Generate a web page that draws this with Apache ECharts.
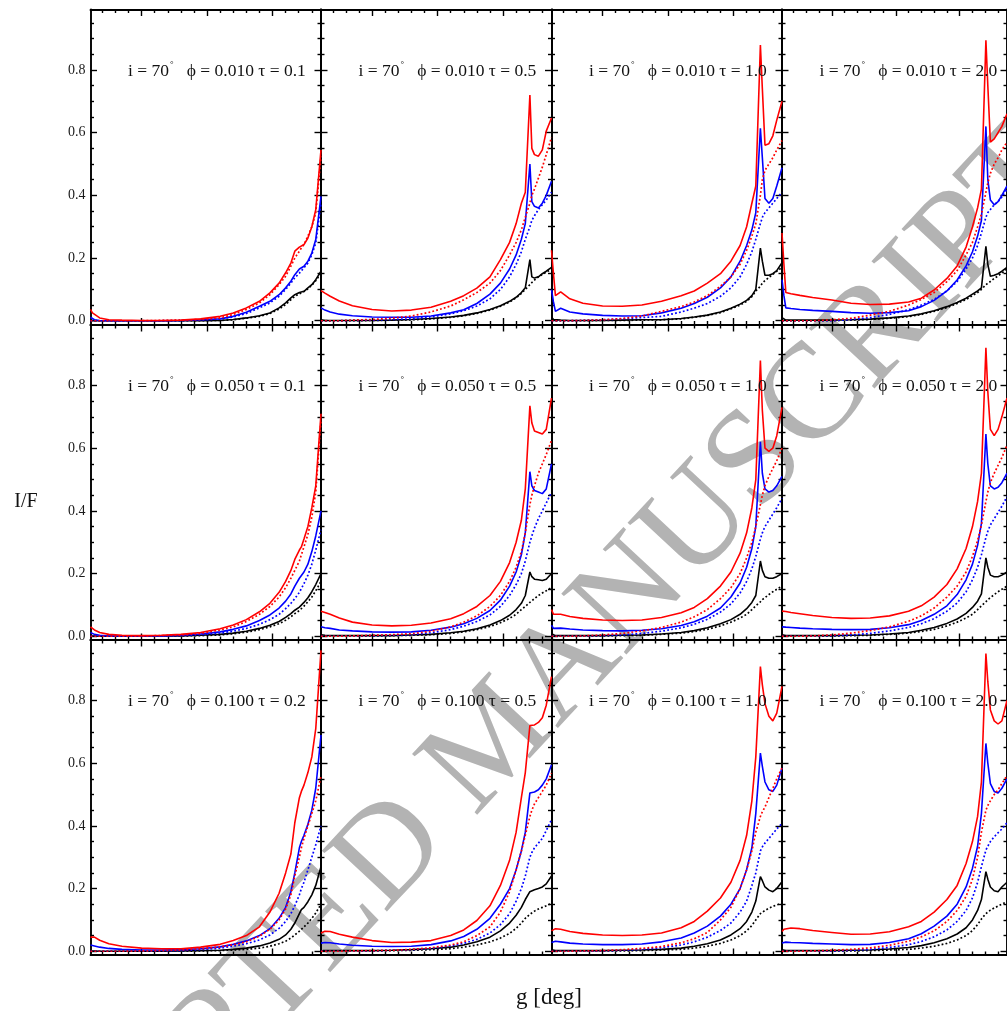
<!DOCTYPE html>
<html><head><meta charset="utf-8">
<script src="https://cdn.jsdelivr.net/npm/echarts@6/dist/echarts.min.js"></script>
<style>html,body{margin:0;padding:0;background:#fff}#c{width:1007px;height:1011px}</style>
</head><body><div id="c"></div>
<script>
// ---------------- DATA ----------------
const gDeg = [11, 12.5, 14, 18, 25, 35, 50, 65, 80, 95, 110, 120, 130, 140, 148, 155, 160, 164, 167, 170.5, 172, 174, 177, 180, 183, 187];
const inclination = '70';
const phiLabels = ['0.010', '0.050', '0.100'];
const tauLabels = [['0.1', '0.5', '1.0', '2.0'], ['0.1', '0.5', '1.0', '2.0'], ['0.2', '0.5', '1.0', '2.0']];
const yTickLabels = [0, 0.2, 0.4, 0.6, 0.8];
const yMinorTicks = [0.05, 0.1, 0.15, 0.25, 0.3, 0.35, 0.45, 0.5, 0.55, 0.65, 0.7, 0.75, 0.85, 0.9, 0.95];
const xMajorTicks = [50, 100, 150];
const xMinorTicks = [20, 30, 40, 60, 70, 80, 90, 110, 120, 130, 140, 160, 170, 180];
const yAxisTitle = 'I/F';
const xAxisTitle = 'g [deg]';
const watermark = 'ACCEPTED MANUSCRIPT';

// row 1 : phi = 0.010
const r1c1_redSolid = [0.036, 0.025, 0.019, 0.009, 0.003, 0.002, 0.001, 0.001, 0.002, 0.006, 0.014, 0.025, 0.041, 0.062, 0.089, 0.12, 0.153, 0.184, 0.222, 0.235, 0.237, 0.243, 0.264, 0.30, 0.354, 0.545];
const r1c1_redDotted = [0, 0, 0, 0, 0, 0, 0, 0.001, 0.002, 0.004, 0.009, 0.02, 0.036, 0.057, 0.083, 0.115, 0.142, 0.174, 0.2, 0.222, 0.232, 0.243, 0.27, 0.30, 0.344, 0.524];
const r1c1_blueSolid = [0.011, 0.006, 0.003, 0.001, 0, 0, 0, 0, 0.001, 0.003, 0.006, 0.014, 0.027, 0.046, 0.062, 0.083, 0.105, 0.126, 0.147, 0.165, 0.169, 0.174, 0.19, 0.216, 0.259, 0.397];
const r1c1_blueDotted = [0, 0, 0, 0, 0, 0, 0, 0, 0.001, 0.002, 0.006, 0.012, 0.023, 0.041, 0.057, 0.078, 0.1, 0.12, 0.137, 0.152, 0.158, 0.169, 0.184, 0.211, 0.248, 0.376];
const r1c1_blackSolid = [0.001, 0.001, 0, 0, 0, 0, 0, 0, 0, 0, 0.001, 0.004, 0.009, 0.016, 0.025, 0.041, 0.057, 0.073, 0.083, 0.09, 0.092, 0.094, 0.105, 0.115, 0.131, 0.158];
const r1c1_blackDotted = [0, 0, 0, 0, 0, 0, 0, 0, 0, 0, 0.001, 0.003, 0.008, 0.014, 0.023, 0.037, 0.052, 0.067, 0.078, 0.086, 0.09, 0.093, 0.102, 0.113, 0.128, 0.152];

const r1c2_redSolid = [0.096, 0.092, 0.088, 0.078, 0.063, 0.048, 0.036, 0.031, 0.034, 0.043, 0.062, 0.08, 0.104, 0.14, 0.195, 0.25, 0.31, 0.375, 0.41, 0.72, 0.55, 0.53, 0.525, 0.545, 0.605, 0.647];
const r1c2_redDotted = [0, 0, 0, 0, 0, 0.002, 0.004, 0.008, 0.015, 0.028, 0.047, 0.067, 0.09, 0.12, 0.16, 0.21, 0.25, 0.29, 0.33, 0.375, 0.4, 0.42, 0.455, 0.49, 0.53, 0.585];
const r1c2_blueSolid = [0.041, 0.037, 0.034, 0.028, 0.021, 0.016, 0.012, 0.011, 0.011, 0.015, 0.025, 0.035, 0.055, 0.085, 0.12, 0.165, 0.21, 0.26, 0.31, 0.50, 0.38, 0.365, 0.36, 0.375, 0.40, 0.445];
const r1c2_blueDotted = [0, 0, 0, 0, 0, 0.001, 0.002, 0.004, 0.006, 0.012, 0.022, 0.032, 0.047, 0.07, 0.1, 0.14, 0.18, 0.22, 0.26, 0.30, 0.32, 0.335, 0.355, 0.37, 0.385, 0.41];
const r1c2_blackSolid = [0.003, 0.002, 0.001, 0.001, 0.001, 0.001, 0.001, 0.002, 0.004, 0.007, 0.012, 0.017, 0.025, 0.036, 0.048, 0.062, 0.075, 0.09, 0.105, 0.195, 0.14, 0.136, 0.14, 0.15, 0.158, 0.17];
const r1c2_blackDotted = [0, 0, 0, 0, 0, 0, 0.001, 0.002, 0.003, 0.006, 0.011, 0.016, 0.023, 0.034, 0.046, 0.06, 0.073, 0.087, 0.1, 0.115, 0.122, 0.13, 0.14, 0.148, 0.155, 0.165];

const r1c3_redSolid = [0.225, 0.15, 0.08, 0.092, 0.07, 0.056, 0.047, 0.046, 0.05, 0.062, 0.08, 0.095, 0.12, 0.15, 0.19, 0.24, 0.3, 0.375, 0.43, 0.88, 0.74, 0.56, 0.565, 0.59, 0.64, 0.70];
const r1c3_redDotted = [0, 0, 0, 0, 0, 0.001, 0.003, 0.007, 0.015, 0.03, 0.045, 0.06, 0.08, 0.11, 0.14, 0.18, 0.225, 0.27, 0.31, 0.40, 0.45, 0.48, 0.50, 0.52, 0.545, 0.575];
const r1c3_blueSolid = [0.099, 0.06, 0.03, 0.04, 0.028, 0.022, 0.017, 0.015, 0.016, 0.025, 0.04, 0.055, 0.075, 0.105, 0.14, 0.19, 0.24, 0.29, 0.345, 0.614, 0.52, 0.39, 0.375, 0.39, 0.43, 0.488];
const r1c3_blueDotted = [0, 0, 0, 0, 0, 0.001, 0.003, 0.006, 0.01, 0.014, 0.028, 0.04, 0.055, 0.078, 0.105, 0.14, 0.18, 0.22, 0.26, 0.31, 0.33, 0.345, 0.36, 0.375, 0.39, 0.41];
const r1c3_blackSolid = [0.012, 0.004, 0.002, 0.002, 0.001, 0.001, 0.001, 0.002, 0.003, 0.003, 0.007, 0.012, 0.018, 0.028, 0.04, 0.053, 0.065, 0.08, 0.1, 0.232, 0.19, 0.145, 0.145, 0.15, 0.16, 0.185];
const r1c3_blackDotted = [0, 0, 0, 0, 0, 0, 0.001, 0.001, 0.002, 0.003, 0.006, 0.011, 0.017, 0.026, 0.038, 0.05, 0.062, 0.077, 0.095, 0.11, 0.12, 0.128, 0.138, 0.148, 0.158, 0.17];

const r1c4_redSolid = [0.28, 0.18, 0.09, 0.086, 0.081, 0.074, 0.066, 0.056, 0.052, 0.053, 0.06, 0.072, 0.098, 0.135, 0.175, 0.235, 0.3, 0.36, 0.42, 0.895, 0.75, 0.57, 0.58, 0.6, 0.62, 0.66];
const r1c4_redDotted = [0, 0, 0, 0, 0, 0, 0.003, 0.008, 0.018, 0.03, 0.05, 0.068, 0.09, 0.125, 0.16, 0.21, 0.25, 0.3, 0.34, 0.41, 0.44, 0.47, 0.5, 0.52, 0.545, 0.57];
const r1c4_blueSolid = [0.131, 0.08, 0.041, 0.039, 0.036, 0.033, 0.03, 0.026, 0.024, 0.026, 0.032, 0.045, 0.065, 0.095, 0.13, 0.175, 0.22, 0.27, 0.32, 0.62, 0.45, 0.385, 0.37, 0.38, 0.40, 0.43];
const r1c4_blueDotted = [0, 0, 0, 0, 0, 0, 0, 0.004, 0.01, 0.02, 0.035, 0.05, 0.068, 0.095, 0.125, 0.165, 0.2, 0.24, 0.28, 0.33, 0.345, 0.355, 0.37, 0.38, 0.395, 0.42];
const r1c4_blackSolid = [0.01, 0.004, 0.002, 0.002, 0.002, 0.002, 0.002, 0.003, 0.005, 0.009, 0.015, 0.022, 0.032, 0.045, 0.058, 0.072, 0.085, 0.095, 0.105, 0.237, 0.18, 0.142, 0.145, 0.15, 0.158, 0.17];
const r1c4_blackDotted = [0, 0, 0, 0, 0, 0, 0.001, 0.002, 0.004, 0.008, 0.013, 0.02, 0.03, 0.042, 0.055, 0.068, 0.08, 0.09, 0.1, 0.115, 0.12, 0.125, 0.135, 0.143, 0.152, 0.165];

// row 2 : phi = 0.050
const r2c1_redSolid = [0.03, 0.025, 0.02, 0.012, 0.006, 0.003, 0.002, 0.003, 0.006, 0.012, 0.024, 0.036, 0.053, 0.078, 0.105, 0.14, 0.175, 0.21, 0.245, 0.275, 0.285, 0.31, 0.35, 0.41, 0.48, 0.71];
const r2c1_redDotted = [0, 0, 0, 0, 0, 0, 0.001, 0.002, 0.004, 0.009, 0.02, 0.03, 0.047, 0.07, 0.095, 0.125, 0.155, 0.185, 0.21, 0.24, 0.26, 0.285, 0.325, 0.38, 0.46, 0.69];
const r2c1_blueSolid = [0.012, 0.009, 0.006, 0.003, 0.001, 0.001, 0.001, 0.001, 0.003, 0.007, 0.014, 0.022, 0.033, 0.05, 0.068, 0.09, 0.112, 0.135, 0.16, 0.185, 0.19, 0.205, 0.23, 0.27, 0.32, 0.40];
const r2c1_blueDotted = [0, 0, 0, 0, 0, 0, 0, 0.001, 0.002, 0.005, 0.01, 0.016, 0.025, 0.038, 0.053, 0.07, 0.088, 0.105, 0.12, 0.14, 0.152, 0.168, 0.195, 0.23, 0.275, 0.34];
const r2c1_blackSolid = [0.001, 0.001, 0.001, 0, 0, 0, 0, 0.001, 0.001, 0.003, 0.006, 0.01, 0.016, 0.025, 0.035, 0.047, 0.06, 0.072, 0.083, 0.093, 0.098, 0.108, 0.123, 0.142, 0.165, 0.2];
const r2c1_blackDotted = [0, 0, 0, 0, 0, 0, 0, 0, 0.001, 0.002, 0.004, 0.008, 0.013, 0.021, 0.03, 0.04, 0.051, 0.062, 0.072, 0.082, 0.088, 0.096, 0.11, 0.125, 0.145, 0.175];

const r2c2_redSolid = [0.08, 0.075, 0.076, 0.07, 0.058, 0.045, 0.036, 0.033, 0.035, 0.042, 0.056, 0.072, 0.095, 0.13, 0.175, 0.235, 0.3, 0.37, 0.47, 0.735, 0.68, 0.655, 0.65, 0.645, 0.66, 0.76];
const r2c2_redDotted = [0, 0, 0, 0, 0, 0.001, 0.003, 0.005, 0.008, 0.016, 0.03, 0.045, 0.065, 0.095, 0.13, 0.175, 0.22, 0.27, 0.33, 0.42, 0.45, 0.48, 0.52, 0.55, 0.58, 0.625];
const r2c2_blueSolid = [0.03, 0.027, 0.027, 0.025, 0.02, 0.017, 0.014, 0.013, 0.014, 0.019, 0.029, 0.04, 0.057, 0.082, 0.115, 0.16, 0.205, 0.26, 0.33, 0.525, 0.48, 0.465, 0.46, 0.455, 0.47, 0.55];
const r2c2_blueDotted = [0, 0, 0, 0, 0, 0.001, 0.002, 0.003, 0.005, 0.011, 0.021, 0.032, 0.047, 0.068, 0.095, 0.13, 0.165, 0.2, 0.24, 0.3, 0.32, 0.345, 0.375, 0.4, 0.425, 0.46];
const r2c2_blackSolid = [0.005, 0.004, 0.003, 0.002, 0.002, 0.002, 0.002, 0.002, 0.004, 0.006, 0.011, 0.016, 0.024, 0.036, 0.05, 0.067, 0.085, 0.105, 0.13, 0.205, 0.19, 0.182, 0.18, 0.178, 0.182, 0.2];
const r2c2_blackDotted = [0, 0, 0, 0, 0, 0, 0.001, 0.002, 0.003, 0.005, 0.009, 0.014, 0.021, 0.031, 0.043, 0.057, 0.07, 0.085, 0.095, 0.108, 0.114, 0.12, 0.13, 0.138, 0.145, 0.155];

const r2c3_redSolid = [0.085, 0.07, 0.072, 0.07, 0.063, 0.057, 0.052, 0.05, 0.052, 0.06, 0.075, 0.092, 0.12, 0.16, 0.205, 0.265, 0.33, 0.41, 0.5, 0.88, 0.72, 0.6, 0.59, 0.6, 0.64, 0.73];
const r2c3_redDotted = [0, 0, 0, 0, 0, 0.001, 0.004, 0.009, 0.017, 0.028, 0.045, 0.062, 0.085, 0.12, 0.155, 0.2, 0.25, 0.3, 0.35, 0.42, 0.45, 0.48, 0.51, 0.535, 0.56, 0.6];
const r2c3_blueSolid = [0.035, 0.025, 0.028, 0.026, 0.023, 0.02, 0.018, 0.017, 0.019, 0.024, 0.034, 0.046, 0.064, 0.09, 0.125, 0.17, 0.22, 0.28, 0.35, 0.62, 0.52, 0.47, 0.46, 0.465, 0.48, 0.51];
const r2c3_blueDotted = [0, 0, 0, 0, 0, 0.001, 0.002, 0.004, 0.009, 0.016, 0.027, 0.038, 0.054, 0.077, 0.103, 0.138, 0.175, 0.215, 0.255, 0.31, 0.33, 0.35, 0.37, 0.39, 0.41, 0.44];
const r2c3_blackSolid = [0.008, 0.003, 0.002, 0.002, 0.002, 0.002, 0.002, 0.003, 0.004, 0.007, 0.012, 0.018, 0.027, 0.04, 0.053, 0.07, 0.088, 0.108, 0.13, 0.24, 0.21, 0.19, 0.185, 0.185, 0.19, 0.2];
const r2c3_blackDotted = [0, 0, 0, 0, 0, 0, 0.001, 0.002, 0.003, 0.006, 0.01, 0.015, 0.022, 0.033, 0.045, 0.058, 0.07, 0.085, 0.097, 0.11, 0.117, 0.123, 0.133, 0.142, 0.15, 0.16];

const r2c4_redSolid = [0.08, 0.08, 0.079, 0.076, 0.072, 0.066, 0.06, 0.057, 0.058, 0.065, 0.08, 0.097, 0.125, 0.165, 0.215, 0.28, 0.35, 0.43, 0.52, 0.92, 0.78, 0.66, 0.64, 0.66, 0.7, 0.76];
const r2c4_redDotted = [0, 0, 0, 0, 0, 0.001, 0.004, 0.01, 0.018, 0.03, 0.048, 0.065, 0.09, 0.125, 0.16, 0.205, 0.255, 0.305, 0.355, 0.43, 0.46, 0.49, 0.52, 0.545, 0.57, 0.61];
const r2c4_blueSolid = [0.03, 0.03, 0.029, 0.028, 0.026, 0.024, 0.022, 0.021, 0.022, 0.027, 0.037, 0.05, 0.07, 0.097, 0.133, 0.18, 0.23, 0.29, 0.36, 0.645, 0.55, 0.48, 0.47, 0.475, 0.49, 0.52];
const r2c4_blueDotted = [0, 0, 0, 0, 0, 0.001, 0.002, 0.004, 0.009, 0.017, 0.028, 0.04, 0.056, 0.08, 0.106, 0.142, 0.18, 0.22, 0.26, 0.315, 0.335, 0.355, 0.375, 0.395, 0.415, 0.445];
const r2c4_blackSolid = [0.005, 0.003, 0.002, 0.002, 0.002, 0.002, 0.002, 0.003, 0.004, 0.007, 0.012, 0.019, 0.028, 0.041, 0.055, 0.073, 0.092, 0.112, 0.135, 0.25, 0.22, 0.195, 0.19, 0.19, 0.195, 0.205];
const r2c4_blackDotted = [0, 0, 0, 0, 0, 0, 0.001, 0.002, 0.003, 0.006, 0.01, 0.015, 0.022, 0.033, 0.045, 0.058, 0.07, 0.085, 0.097, 0.11, 0.117, 0.123, 0.133, 0.142, 0.15, 0.16];

// row 3 : phi = 0.100
const r3c1_redSolid = [0.045, 0.047, 0.045, 0.035, 0.024, 0.016, 0.01, 0.008, 0.008, 0.013, 0.022, 0.034, 0.05, 0.078, 0.125, 0.185, 0.25, 0.31, 0.41, 0.49, 0.51, 0.53, 0.57, 0.62, 0.71, 0.96];
const r3c1_redDotted = [0, 0, 0, 0, 0, 0, 0.001, 0.002, 0.004, 0.008, 0.014, 0.021, 0.03, 0.048, 0.07, 0.1, 0.135, 0.18, 0.24, 0.3, 0.33, 0.36, 0.4, 0.44, 0.48, 0.56];
const r3c1_blueSolid = [0.02, 0.019, 0.017, 0.013, 0.009, 0.006, 0.004, 0.004, 0.005, 0.008, 0.014, 0.022, 0.033, 0.05, 0.072, 0.105, 0.14, 0.19, 0.25, 0.33, 0.35, 0.37, 0.405, 0.45, 0.52, 0.69];
const r3c1_blueDotted = [0, 0, 0, 0, 0, 0, 0, 0.001, 0.002, 0.005, 0.01, 0.016, 0.024, 0.036, 0.052, 0.073, 0.095, 0.12, 0.145, 0.18, 0.2, 0.22, 0.26, 0.3, 0.34, 0.4];
const r3c1_blackSolid = [0.001, 0.001, 0.001, 0, 0, 0, 0, 0, 0.001, 0.002, 0.003, 0.006, 0.01, 0.017, 0.026, 0.038, 0.052, 0.07, 0.09, 0.12, 0.133, 0.14, 0.158, 0.18, 0.21, 0.27];
const r3c1_blackDotted = [0, 0, 0, 0, 0, 0, 0, 0, 0, 0.001, 0.002, 0.004, 0.006, 0.01, 0.016, 0.024, 0.032, 0.042, 0.052, 0.064, 0.07, 0.078, 0.09, 0.105, 0.122, 0.15];

const r3c2_redSolid = [0.058, 0.062, 0.064, 0.063, 0.054, 0.045, 0.034, 0.028, 0.029, 0.034, 0.05, 0.068, 0.098, 0.145, 0.21, 0.29, 0.38, 0.49, 0.57, 0.72, 0.72, 0.722, 0.73, 0.745, 0.785, 0.876];
const r3c2_redDotted = [0, 0, 0, 0, 0, 0.001, 0.002, 0.003, 0.006, 0.011, 0.02, 0.03, 0.05, 0.078, 0.125, 0.19, 0.26, 0.32, 0.37, 0.43, 0.45, 0.47, 0.49, 0.51, 0.53, 0.568];
const r3c2_blueSolid = [0.026, 0.027, 0.028, 0.027, 0.023, 0.019, 0.016, 0.015, 0.016, 0.021, 0.033, 0.047, 0.07, 0.105, 0.15, 0.2, 0.26, 0.32, 0.38, 0.505, 0.506, 0.508, 0.515, 0.53, 0.55, 0.595];
const r3c2_blueDotted = [0, 0, 0, 0, 0, 0, 0.001, 0.003, 0.005, 0.009, 0.017, 0.025, 0.038, 0.058, 0.085, 0.12, 0.16, 0.2, 0.24, 0.3, 0.315, 0.33, 0.345, 0.36, 0.385, 0.42];
const r3c2_blackSolid = [0.002, 0.002, 0.002, 0.002, 0.002, 0.002, 0.002, 0.003, 0.005, 0.008, 0.013, 0.02, 0.03, 0.045, 0.065, 0.09, 0.115, 0.14, 0.165, 0.19, 0.193, 0.196, 0.2, 0.205, 0.215, 0.24];
const r3c2_blackDotted = [0, 0, 0, 0, 0, 0, 0.001, 0.002, 0.003, 0.005, 0.008, 0.013, 0.02, 0.03, 0.042, 0.057, 0.073, 0.09, 0.105, 0.118, 0.123, 0.128, 0.135, 0.14, 0.145, 0.153];

const r3c3_redSolid = [0.065, 0.068, 0.072, 0.07, 0.063, 0.057, 0.052, 0.05, 0.052, 0.058, 0.075, 0.095, 0.128, 0.17, 0.22, 0.29, 0.37, 0.48, 0.62, 0.908, 0.85, 0.79, 0.75, 0.735, 0.76, 0.845];
const r3c3_redDotted = [0, 0, 0, 0, 0, 0.001, 0.002, 0.005, 0.009, 0.015, 0.027, 0.04, 0.06, 0.1, 0.14, 0.2, 0.26, 0.32, 0.38, 0.43, 0.445, 0.46, 0.49, 0.52, 0.55, 0.585];
const r3c3_blueSolid = [0.028, 0.031, 0.032, 0.03, 0.026, 0.023, 0.021, 0.021, 0.023, 0.03, 0.042, 0.058, 0.08, 0.112, 0.15, 0.2, 0.26, 0.33, 0.44, 0.632, 0.59, 0.54, 0.515, 0.51, 0.53, 0.585];
const r3c3_blueDotted = [0, 0, 0, 0, 0, 0, 0.001, 0.003, 0.006, 0.011, 0.02, 0.03, 0.045, 0.066, 0.09, 0.125, 0.16, 0.21, 0.25, 0.32, 0.333, 0.345, 0.36, 0.375, 0.39, 0.408];
const r3c3_blackSolid = [0.005, 0.003, 0.002, 0.002, 0.002, 0.002, 0.002, 0.003, 0.004, 0.006, 0.01, 0.016, 0.024, 0.036, 0.052, 0.072, 0.095, 0.125, 0.16, 0.238, 0.225, 0.205, 0.195, 0.19, 0.2, 0.222];
const r3c3_blackDotted = [0, 0, 0, 0, 0, 0, 0.001, 0.001, 0.002, 0.004, 0.006, 0.01, 0.016, 0.025, 0.036, 0.05, 0.065, 0.082, 0.1, 0.12, 0.125, 0.13, 0.137, 0.143, 0.148, 0.153];

const r3c4_redSolid = [0.063, 0.07, 0.074, 0.074, 0.072, 0.066, 0.06, 0.054, 0.055, 0.062, 0.078, 0.095, 0.125, 0.165, 0.21, 0.28, 0.35, 0.43, 0.54, 0.95, 0.86, 0.77, 0.735, 0.725, 0.735, 0.8];
const r3c4_redDotted = [0, 0, 0, 0, 0, 0.001, 0.003, 0.006, 0.011, 0.019, 0.032, 0.046, 0.065, 0.095, 0.13, 0.175, 0.23, 0.3, 0.38, 0.45, 0.465, 0.48, 0.5, 0.515, 0.535, 0.56];
const r3c4_blueSolid = [0.026, 0.028, 0.029, 0.028, 0.027, 0.025, 0.023, 0.021, 0.022, 0.028, 0.04, 0.056, 0.08, 0.112, 0.15, 0.205, 0.265, 0.335, 0.44, 0.663, 0.6, 0.535, 0.51, 0.505, 0.52, 0.55];
const r3c4_blueDotted = [0, 0, 0, 0, 0, 0, 0.001, 0.003, 0.006, 0.012, 0.021, 0.031, 0.046, 0.068, 0.095, 0.13, 0.17, 0.22, 0.27, 0.323, 0.335, 0.35, 0.365, 0.378, 0.39, 0.41];
const r3c4_blackSolid = [0.005, 0.003, 0.002, 0.002, 0.002, 0.002, 0.002, 0.003, 0.004, 0.007, 0.012, 0.018, 0.027, 0.04, 0.055, 0.075, 0.1, 0.13, 0.165, 0.254, 0.23, 0.205, 0.193, 0.19, 0.205, 0.22];
const r3c4_blackDotted = [0, 0, 0, 0, 0, 0, 0.001, 0.001, 0.002, 0.004, 0.006, 0.01, 0.016, 0.025, 0.036, 0.05, 0.066, 0.085, 0.103, 0.12, 0.125, 0.131, 0.138, 0.144, 0.15, 0.158];

// panel table (row-major), each: [redSolid, redDotted, blueSolid, blueDotted, blackSolid, blackDotted]
const panels = [
  [[r1c1_redSolid, r1c1_redDotted, r1c1_blueSolid, r1c1_blueDotted, r1c1_blackSolid, r1c1_blackDotted],
   [r1c2_redSolid, r1c2_redDotted, r1c2_blueSolid, r1c2_blueDotted, r1c2_blackSolid, r1c2_blackDotted],
   [r1c3_redSolid, r1c3_redDotted, r1c3_blueSolid, r1c3_blueDotted, r1c3_blackSolid, r1c3_blackDotted],
   [r1c4_redSolid, r1c4_redDotted, r1c4_blueSolid, r1c4_blueDotted, r1c4_blackSolid, r1c4_blackDotted]],
  [[r2c1_redSolid, r2c1_redDotted, r2c1_blueSolid, r2c1_blueDotted, r2c1_blackSolid, r2c1_blackDotted],
   [r2c2_redSolid, r2c2_redDotted, r2c2_blueSolid, r2c2_blueDotted, r2c2_blackSolid, r2c2_blackDotted],
   [r2c3_redSolid, r2c3_redDotted, r2c3_blueSolid, r2c3_blueDotted, r2c3_blackSolid, r2c3_blackDotted],
   [r2c4_redSolid, r2c4_redDotted, r2c4_blueSolid, r2c4_blueDotted, r2c4_blackSolid, r2c4_blackDotted]],
  [[r3c1_redSolid, r3c1_redDotted, r3c1_blueSolid, r3c1_blueDotted, r3c1_blackSolid, r3c1_blackDotted],
   [r3c2_redSolid, r3c2_redDotted, r3c2_blueSolid, r3c2_blueDotted, r3c2_blackSolid, r3c2_blackDotted],
   [r3c3_redSolid, r3c3_redDotted, r3c3_blueSolid, r3c3_blueDotted, r3c3_blackSolid, r3c3_blackDotted],
   [r3c4_redSolid, r3c4_redDotted, r3c4_blueSolid, r3c4_blueDotted, r3c4_blackSolid, r3c4_blackDotted]]
];

// ---------------- LAYOUT / STYLE ----------------
const FONT = '"Liberation Serif", "Times New Roman", "DejaVu Serif", serif';
const colLeft = [90.5, 321, 551.5, 782];
const rowTop = [9.5, 325, 640];
const PW = 230.5, PH = 315;
const X_MIN = 11, X_MAX = 187, Y_MIN = -0.012, Y_MAX = 0.993;
const FRAME_W = 1.9, TICK_W = 1.4;
const curveStyles = [
  { color: '#ff0000', dotted: false }, { color: '#ff0000', dotted: true },
  { color: '#0000ff', dotted: false }, { color: '#0000ff', dotted: true },
  { color: '#000000', dotted: false }, { color: '#000000', dotted: true }
];
const drawOrder = [5, 4, 3, 2, 1, 0];

const grids = [], xAxes = [], yAxes = [], series = [], graphics = [];

function mkX(g, pos, major) {
  return {
    gridIndex: g, type: 'value', min: X_MIN, max: X_MAX, position: pos,
    axisLine: { show: major, onZero: false, lineStyle: { color: '#000', width: FRAME_W } },
    axisTick: { show: true, inside: true, length: major ? 6.5 : 3.5, customValues: major ? xMajorTicks : xMinorTicks,
                lineStyle: { color: '#000', width: TICK_W } },
    axisLabel: { show: false }, splitLine: { show: false }
  };
}
function mkY(g, pos, major, labels) {
  return {
    gridIndex: g, type: 'value', min: Y_MIN, max: Y_MAX, position: pos,
    axisLine: { show: major, onZero: false, lineStyle: { color: '#000', width: FRAME_W } },
    axisTick: { show: true, inside: true, length: major ? 6.5 : 3.5, customValues: major ? yTickLabels : yMinorTicks,
                lineStyle: { color: '#000', width: TICK_W } },
    axisLabel: labels ? { show: true, customValues: yTickLabels, formatter: v => v.toFixed(1), fontFamily: FONT,
                          fontSize: 14, color: '#1a1a1a', margin: 5 } : { show: false },
    splitLine: { show: false }
  };
}

for (let r = 0; r < 3; r++) {
  for (let c = 0; c < 4; c++) {
    const g = grids.length;
    grids.push({ left: colLeft[c], top: rowTop[r], width: PW, height: PH, show: false });
    xAxes.push(mkX(g, 'bottom', true), mkX(g, 'bottom', false), mkX(g, 'top', true), mkX(g, 'top', false));
    yAxes.push(mkY(g, 'left', true, c === 0), mkY(g, 'left', false, false), mkY(g, 'right', true, false), mkY(g, 'right', false, false));
    const curves = panels[r][c];
    drawOrder.forEach(k => {
      const st = curveStyles[k];
      series.push({
        type: 'line', xAxisIndex: 4 * g, yAxisIndex: 4 * g, symbol: 'none', silent: true, clip: true,
        data: gDeg.map((x, i) => [x, curves[k][i]]),
        lineStyle: { color: st.color, width: st.dotted ? 1.7 : 1.6, type: st.dotted ? [1.8, 2.2] : 'solid' },
        z: 3
      });
    });
    graphics.push({
      type: 'text', x: colLeft[c] + 37.5, y: rowTop[r] + PH * (Y_MAX - 0.8) / (Y_MAX - Y_MIN), z: 5,
      style: {
        text: '{a|i = ' + inclination + '}{d|°}{a|   ϕ = ' + phiLabels[r] + ' τ = ' + tauLabels[r][c] + '}',
        verticalAlign: 'middle', align: 'left',
        rich: {
          a: { fontFamily: FONT, fontSize: 17.5, fill: '#111', lineHeight: 20, verticalAlign: 'bottom' },
          d: { fontFamily: FONT, fontSize: 9, fill: '#111', lineHeight: 20, verticalAlign: 'top', padding: [0, 0, 0, 1] }
        }
      }
    });
  }
}

graphics.push({
  type: 'text', x: 496, y: 742, rotation: 47 * Math.PI / 180, z: -1,
  style: { text: watermark, fontFamily: FONT, fontSize: 136, fill: '#b3b3b3', align: 'center', verticalAlign: 'middle' }
});
graphics.push({
  type: 'text', x: 26, y: 502, z: 5,
  style: { text: yAxisTitle, fontFamily: FONT, fontSize: 20, fill: '#111', align: 'center', verticalAlign: 'middle' }
});
graphics.push({
  type: 'text', x: 549, y: 998, z: 5,
  style: { text: xAxisTitle, fontFamily: FONT, fontSize: 23, fill: '#111', align: 'center', verticalAlign: 'middle' }
});

const chart = echarts.init(document.getElementById('c'), null, { renderer: 'canvas' });
chart.setOption({
  backgroundColor: '#ffffff',
  animation: false,
  grid: grids, xAxis: xAxes, yAxis: yAxes, series: series,
  graphic: { elements: graphics }
});
</script></body></html>
